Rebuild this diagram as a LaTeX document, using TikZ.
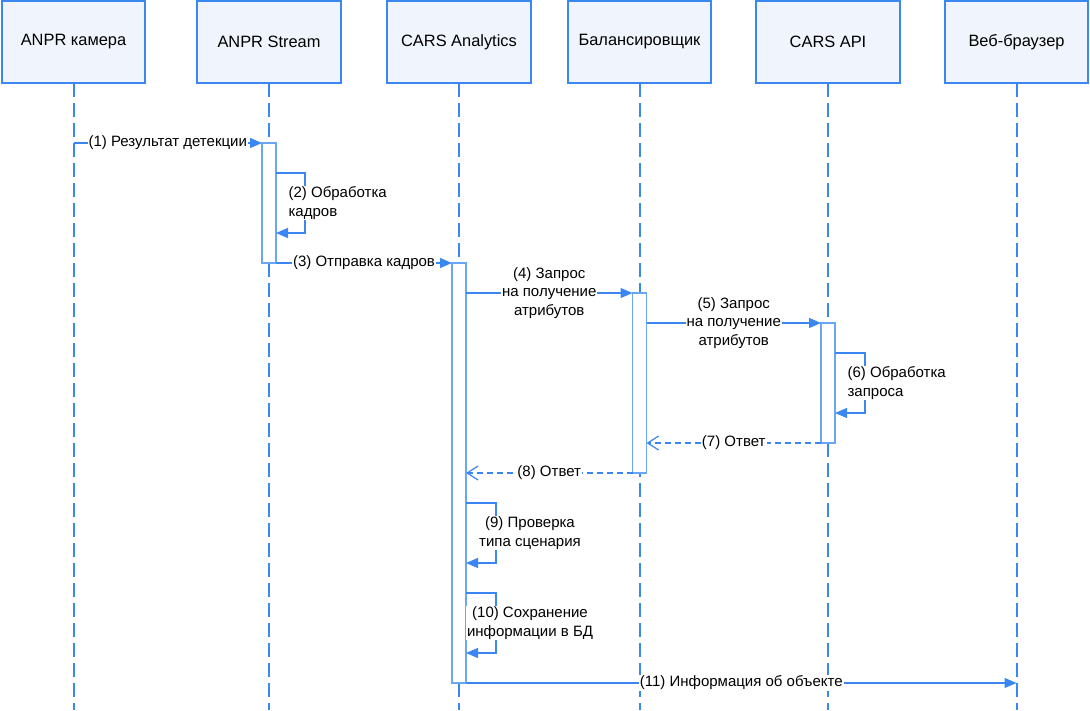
\documentclass[tikz,border=0pt]{standalone}
\usepackage{fontspec}
\setmainfont{Liberation Sans}
\usepackage{tikz}
\usetikzlibrary{calc}
\usetikzlibrary{arrows.meta,positioning}

\definecolor{seqblue}{HTML}{3A87F2}
\definecolor{boxfill}{HTML}{F0F4FC}
\definecolor{barblue}{HTML}{6AA6F6}

\begin{document}
\begin{tikzpicture}[x=1pt,y=-1pt,>={Triangle[length=12pt,width=10pt]}]
      \tikzstyle{actor}=[draw=seqblue,fill=boxfill,line width=2pt,rectangle,minimum height=82pt,minimum width=143.5pt,outer sep=0pt,font=\fontsize{16.4}{19}\selectfont]
      \tikzstyle{lifeline}=[draw=seqblue,line width=2pt,dash pattern=on 14pt off 6pt]
      \tikzstyle{bar}=[draw=barblue,fill=white,line width=1.2pt,rectangle,minimum width=14pt,inner sep=0pt,outer sep=0pt]
      \tikzstyle{msg}=[draw=seqblue,line width=1.2pt,->]
      \tikzstyle{reply}=[draw=seqblue,line width=1.2pt,dash pattern=on 6pt off 4pt,-{Straight Barb[length=11pt,width=14pt]}]
      \tikzstyle{lbl}=[fill=white,inner sep=1pt,align=center,font=\fontsize{15}{18.5}\selectfont]

      \useasboundingbox (0,0) rectangle (1090,710);
      \coordinate (bottom) at (0,710);

      \node[actor] (camera) at (73.5,42) {ANPR камера};
      \node[actor,right=52pt of camera] (stream) {ANPR Stream};
      \node[actor,right=46.5pt of stream] (analytics) {CARS Analytics};
      \node[actor,right=37pt of analytics] (balancer) {Балансировщик};
      \node[actor,right=45pt of balancer] (api) {CARS API};
      \node[actor,right=45pt of api] (browser) {Веб-браузер};

      \draw[lifeline] (camera.south)--(camera.south |- bottom);
      \draw[lifeline] (stream.south)--(stream.south |- bottom);
      \draw[lifeline] (analytics.south)--(analytics.south |- bottom);
      \draw[lifeline] (balancer.south)--(balancer.south |- bottom);
      \draw[lifeline] (api.south)--(api.south |- bottom);
      \draw[lifeline] (browser.south)--(browser.south |- bottom);

      \node[bar,minimum height=120pt,below=60pt of stream] (streamBar) {};
      \node[bar,minimum height=420pt,below=180pt of analytics] (analyticsBar) {};
      \node[bar,minimum height=180pt,below=210pt of balancer] (balancerBar) {};
      \node[bar,minimum height=120pt,below=240pt of api] (apiBar) {};

      \draw[msg] (camera.south |- streamBar.north)--node[lbl]{(1) Результат детекции}(streamBar.north west);
      \draw[msg] ([yshift=-30pt]streamBar.north east)--++(29,0)
            --node[lbl,align=left,anchor=west,xshift=-18pt]{(2) Обработка\\кадров}++(0,60)--++(-29,0);
      \draw[msg] (streamBar.south east)--node[lbl]{(3) Отправка кадров}(analyticsBar.north west);
      \draw[msg] (analyticsBar.east |- balancerBar.north)--node[lbl]{(4) Запрос\\на получение\\атрибутов}(balancerBar.north west);
      \draw[msg] (balancerBar.east |- apiBar.north)--node[lbl]{(5) Запрос\\на получение\\атрибутов}(apiBar.north west);
      \draw[msg] ([yshift=-30pt]apiBar.north east)--++(30,0)
            --node[lbl,align=left,anchor=west,xshift=-19pt]{(6) Обработка\\запроса}++(0,60)--++(-30,0);
      \draw[reply] (apiBar.south west)--node[lbl]{(7) Ответ}(balancerBar.east |- apiBar.south);
      \draw[reply] (balancerBar.south west)--node[lbl]{(8) Ответ}(analyticsBar.east |- balancerBar.south);
      \draw[msg] ([yshift=-240pt]analyticsBar.north east)--++(30,0)
            --node[lbl,xshift=34pt]{(9) Проверка\\типа сценария}++(0,60)--++(-30,0);
      \draw[msg] ([yshift=-330pt]analyticsBar.north east)--++(30,0)
            --node[lbl,xshift=34pt]{(10) Сохранение\\информации в БД}++(0,60)--++(-30,0);
      \draw[msg] (analyticsBar.south east)--node[lbl]{(11) Информация об объекте}(browser.south |- analyticsBar.south);
\end{tikzpicture}
\end{document}
